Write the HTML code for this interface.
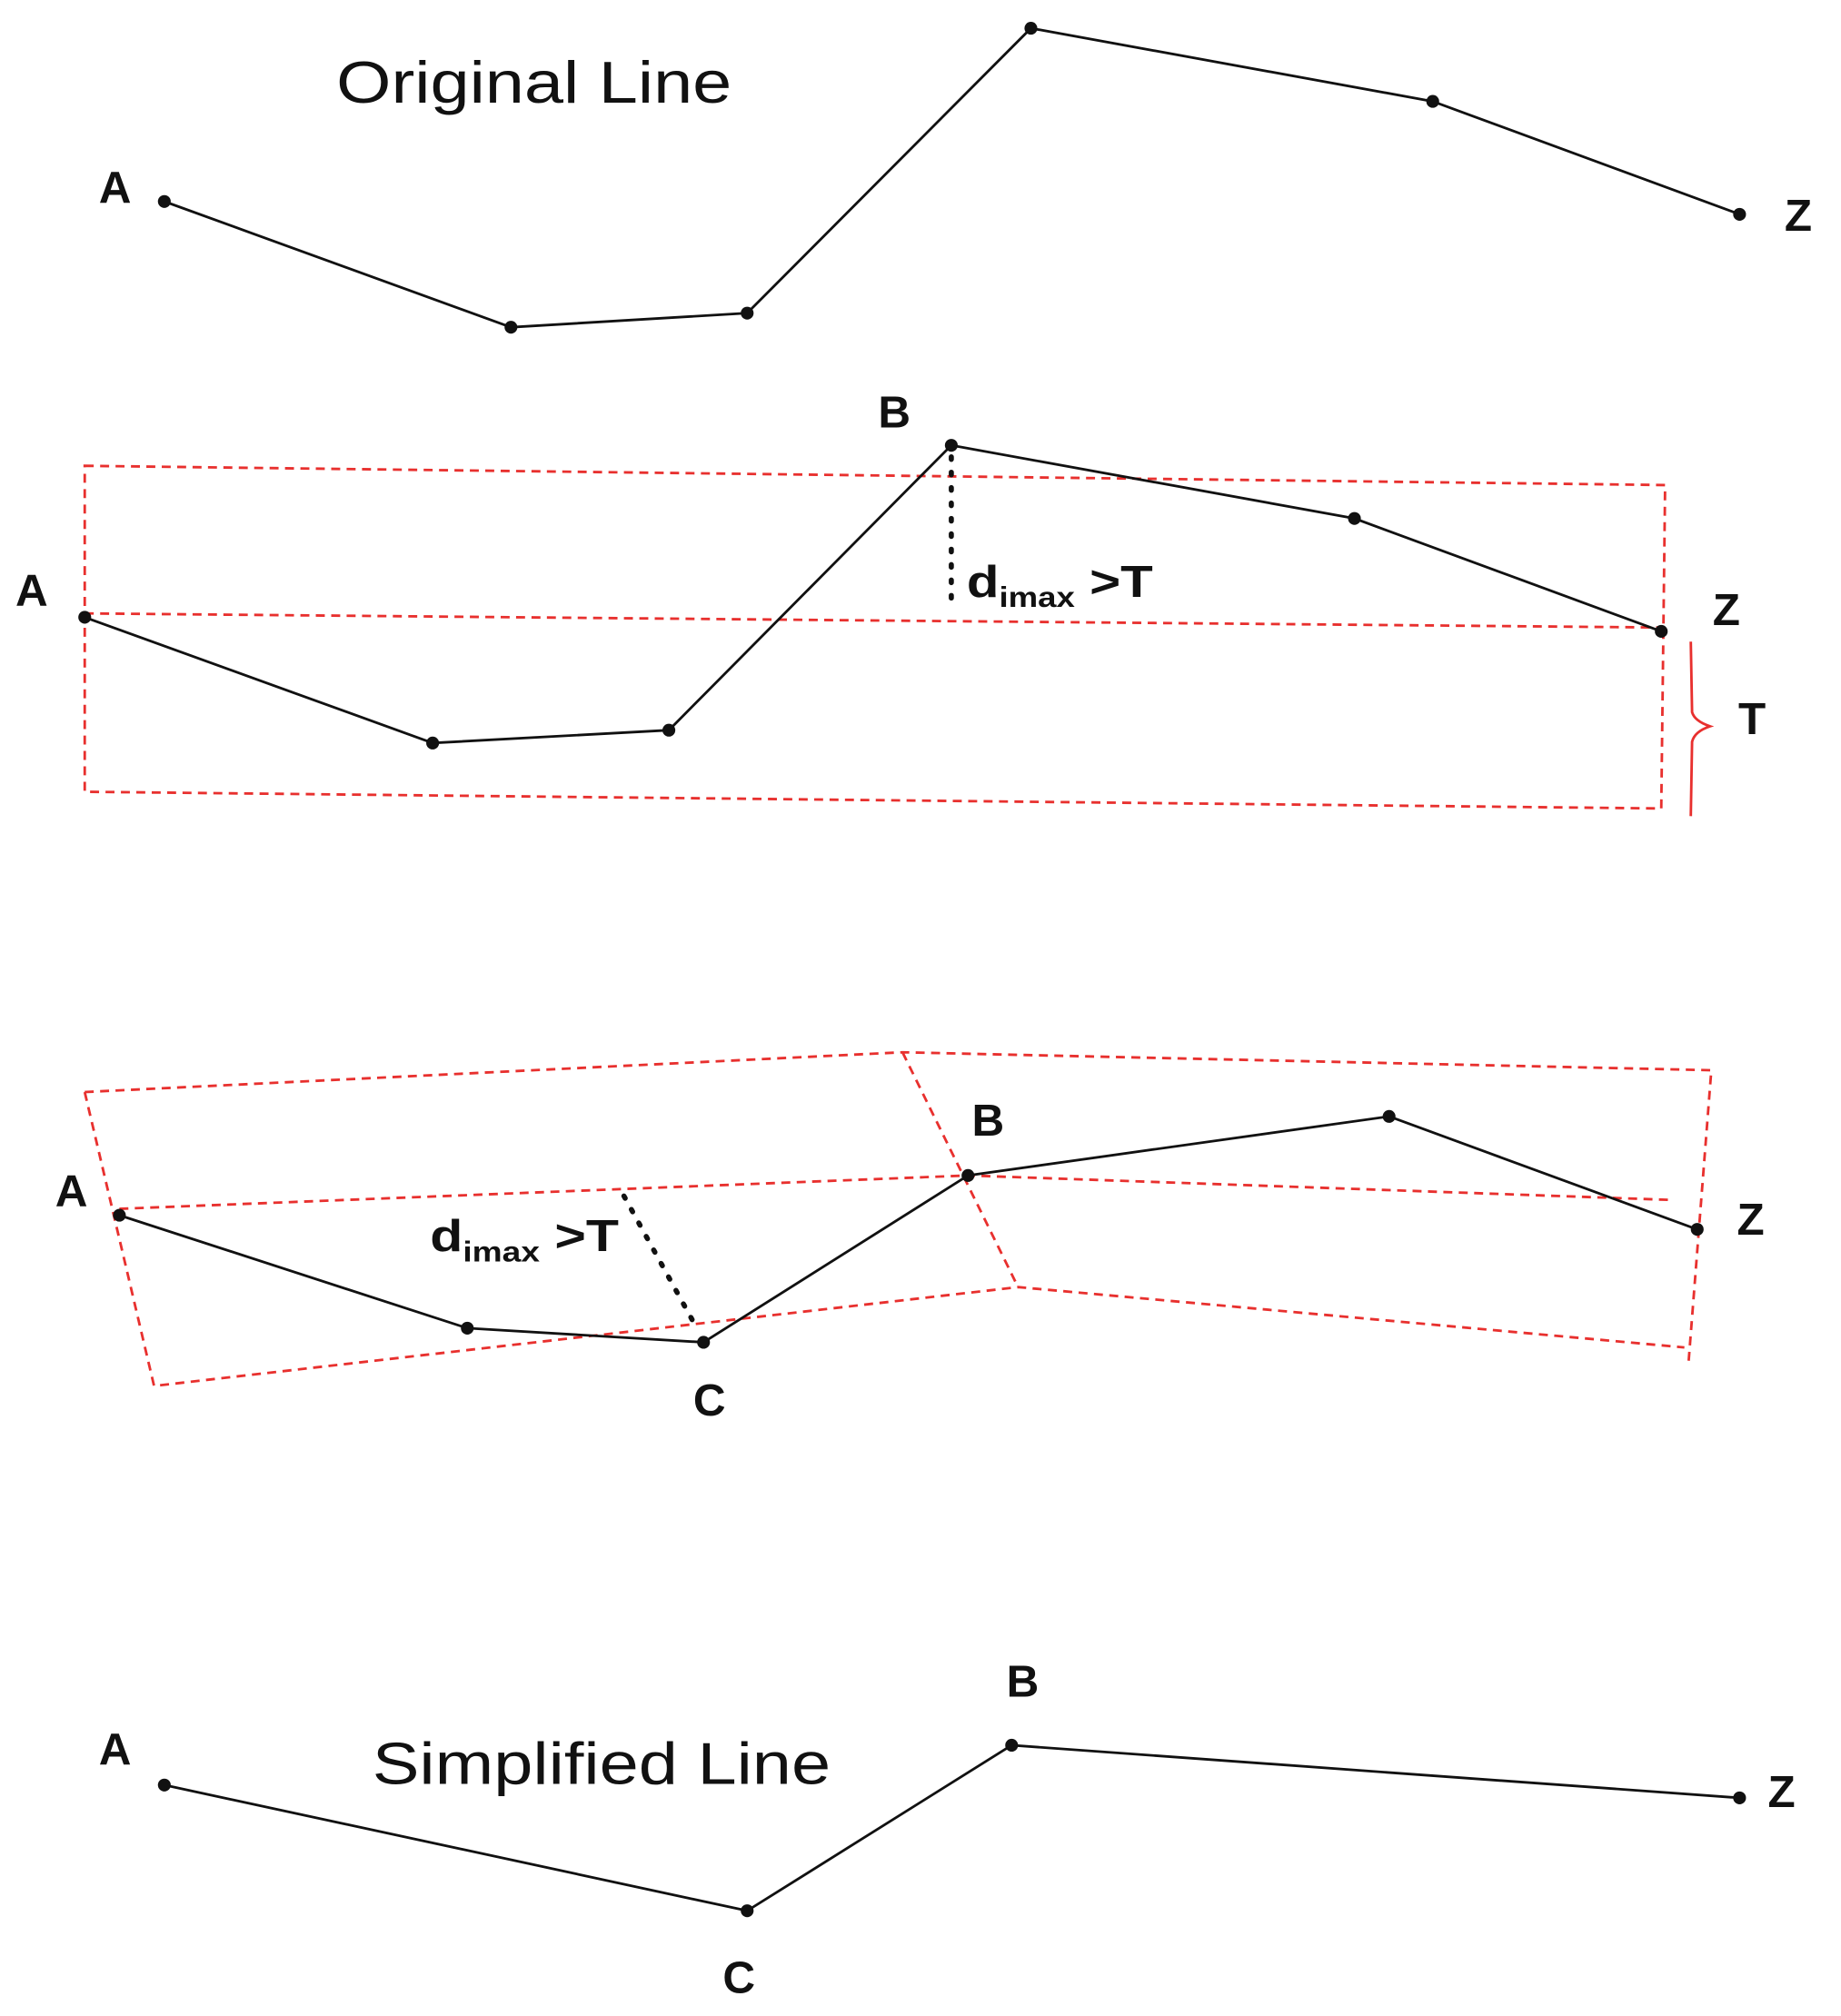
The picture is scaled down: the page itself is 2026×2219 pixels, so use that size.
<!DOCTYPE html>
<html><head><meta charset="utf-8"><style>
html,body{margin:0;padding:0;background:#fff;}
svg{display:block;}
text{font-family:"Liberation Sans",sans-serif;fill:#111;}
.b{font-weight:bold;font-size:35px;}
.l{fill:none;stroke:#111;stroke-width:2;}
.r{fill:none;stroke:#e8302e;stroke-width:2;stroke-dasharray:7 5;}
.d{fill:none;stroke:#111;stroke-width:4;stroke-dasharray:2 10;stroke-linecap:round;}
</style></head><body>
<svg width="2026" height="2219" viewBox="0 0 1434 1571" preserveAspectRatio="none" xmlns="http://www.w3.org/2000/svg">
<!-- Panel 1 -->
<text x="262" y="80" font-size="46" textLength="308" lengthAdjust="spacingAndGlyphs">Original Line</text>
<polyline class="l" points="128,157 398,255 582,244 803,22 1116,79 1355,167"/>
<g fill="#111"><circle cx="128" cy="157" r="5"/><circle cx="398" cy="255" r="5"/><circle cx="582" cy="244" r="5"/><circle cx="803" cy="22" r="5"/><circle cx="1116" cy="79" r="5"/><circle cx="1355" cy="167" r="5"/></g>
<text class="b" x="77" y="158">A</text><text class="b" x="1390" y="180">Z</text>

<!-- Panel 2 -->
<polygon class="r" points="66,363 1297,378 1294,630 66,617"/>
<line class="r" x1="66" y1="478" x2="1294" y2="489"/>
<polyline class="l" points="66,481 337,579 521,569 741,347 1055,404 1294,492"/>
<line class="d" x1="741" y1="356" x2="741" y2="476"/>
<g fill="#111"><circle cx="66" cy="481" r="5"/><circle cx="337" cy="579" r="5"/><circle cx="521" cy="569" r="5"/><circle cx="741" cy="347" r="5"/><circle cx="1055" cy="404" r="5"/><circle cx="1294" cy="492" r="5"/></g>
<text class="b" x="12" y="472">A</text><text class="b" x="684" y="333">B</text><text class="b" x="1334" y="487">Z</text>
<text class="b" x="753" y="465" font-size="28" textLength="145" lengthAdjust="spacingAndGlyphs">d<tspan font-size="22" dy="8">imax</tspan><tspan dy="-8"> &gt;T</tspan></text>
<path d="M1317,500 L1318,555 Q1320,562 1332,566 Q1320,570 1318,578 L1317,636" fill="none" stroke="#e8302e" stroke-width="2"/>
<text class="b" x="1354" y="572">T</text>

<!-- Panel 3 -->
<polyline class="r" points="66,851 703,820 1333,834 1315,1065"/>
<polyline class="r" points="66,851 120,1080 793,1003 1312,1050"/>
<line class="r" x1="703" y1="820" x2="793" y2="1003"/>
<polyline class="r" points="93,942 754,916 1300,935"/>
<polyline class="l" points="93,947 364,1035 548,1046 754,916 1082,870 1322,958"/>
<line class="d" x1="486" y1="932" x2="540" y2="1030"/>
<g fill="#111"><circle cx="93" cy="947" r="5"/><circle cx="364" cy="1035" r="5"/><circle cx="548" cy="1046" r="5"/><circle cx="754" cy="916" r="5"/><circle cx="1082" cy="870" r="5"/><circle cx="1322" cy="958" r="5"/></g>
<text class="b" x="43" y="940">A</text><text class="b" x="757" y="885">B</text><text class="b" x="540" y="1103">C</text><text class="b" x="1353" y="962">Z</text>
<text class="b" x="335" y="975" font-size="28" textLength="147" lengthAdjust="spacingAndGlyphs">d<tspan font-size="22" dy="8">imax</tspan><tspan dy="-8"> &gt;T</tspan></text>

<!-- Panel 4 -->
<text x="290" y="1390" font-size="46" textLength="357" lengthAdjust="spacingAndGlyphs">Simplified Line</text>
<polyline class="l" points="128,1391 582,1489 788,1360 1355,1401"/>
<g fill="#111"><circle cx="128" cy="1391" r="5"/><circle cx="582" cy="1489" r="5"/><circle cx="788" cy="1360" r="5"/><circle cx="1355" cy="1401" r="5"/></g>
<text class="b" x="77" y="1375">A</text><text class="b" x="784" y="1322">B</text><text class="b" x="563" y="1553">C</text><text class="b" x="1377" y="1408">Z</text>
</svg>
</body></html>
